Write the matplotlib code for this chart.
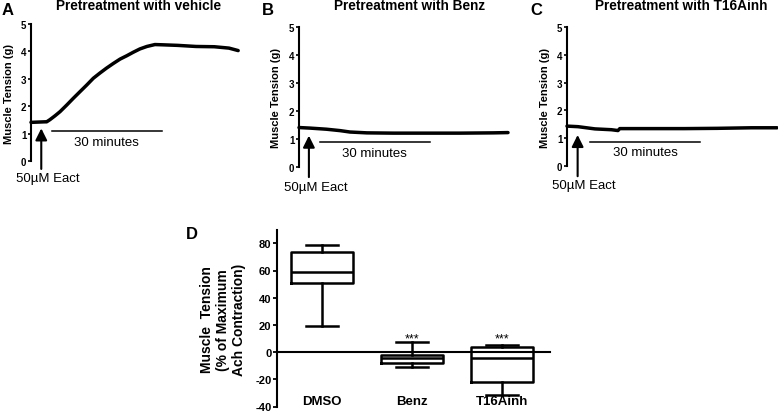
import matplotlib
matplotlib.use("Agg")
import matplotlib.pyplot as plt
import numpy as np

plt.rcParams['font.family'] = ['Liberation Sans', 'DejaVu Sans']
plt.rcParams['axes.unicode_minus'] = False

# ---- data: traces (time in minutes, tension in g) ----
time_A = [0, 3.8, 4.27, 5.18, 6.55, 7.91, 9.73, 11.55, 13.36, 15.18, 17.0, 18.8, 20.6,
          22.45, 24.3, 26.1, 27.9, 29.7, 31.6, 33.8, 36.0, 40.0, 45.0, 50.0, 54.0, 56.5]
tension_A = [1.41, 1.43, 1.43, 1.51, 1.65, 1.80, 2.04, 2.29, 2.53, 2.77, 3.02, 3.21, 3.39,
             3.56, 3.72, 3.84, 3.97, 4.09, 4.18, 4.25, 4.24, 4.22, 4.18, 4.17, 4.12, 4.03]

time_B = [0, 3.0, 7.5, 11.2, 13.9, 18.5, 25.7, 34.8, 43.9, 53.0, 57.0]
tension_B = [1.42, 1.40, 1.36, 1.31, 1.26, 1.23, 1.22, 1.22, 1.22, 1.23, 1.24]

time_C = [0, 3.0, 7.6, 12.1, 13.9, 14.4, 23.0, 32.1, 41.0, 50.3, 57.3]
tension_C = [1.43, 1.41, 1.33, 1.30, 1.27, 1.34, 1.34, 1.34, 1.35, 1.37, 1.37]

titles = ["Pretreatment with vehicle", "Pretreatment with Benz", "Pretreatment with T16Ainh"]
letters = ["A", "B", "C", "D"]
yticks_trace = [0, 1, 2, 3, 4, 5]

# ---- data: box plot panel D ----
groups = ["DMSO", "Benz", "T16Ainh"]
whis_hi = [78.5, 7.4, 5.5]
q3 = [73.8, -1.8, 3.4]
median = [59.0, -4.7, -4.5]
q1 = [51.0, -7.9, -21.7]
whis_lo = [19.0, -11.3, -31.4]
sig = ["", "***", "***"]
yticks_D = [-40, -20, 0, 20, 40, 60, 80]

W, H = 778, 414
fig = plt.figure(figsize=(W / 100, H / 100), dpi=100)

def fx(px):
    return px / W

def fy(py):
    return 1 - py / H

# axes rectangles in pixels: left, top, right, bottom
rects = [(31, 25, 240, 162), (299, 28.3, 510, 168.3), (567, 28.3, 778, 166.7)]
traces = [(time_A, tension_A), (time_B, tension_B), (time_C, tension_C)]
arrow_x = [2.8, 2.7, 2.9]
arrow_tip = [1.19, 1.13, 1.11]
arrow_base = [-0.29, -0.35, -0.38]
bar_start = [5.7, 5.7, 6.3]
bar_y = [1.08, 0.89, 0.87]
min_text_y = [0.70, 0.51, 0.49]
eact_y = [-0.63, -0.70, -0.69]
title_x = [139, 410, 681]
letter_x = [2, 262, 530]
label_x = [-0.079, -0.083, -0.080]

lw_axis = 1.5
for i in range(3):
    l, t, r, b = rects[i]
    ax = fig.add_axes([fx(l), fy(b), fx(r) - fx(l), fy(t) - fy(b)])
    ax.plot(traces[i][0], traces[i][1], color='black', lw=2.5,
            solid_capstyle='round', solid_joinstyle='round', clip_on=False)
    ax.set_xlim(0, (r - l) / (110 / 30))
    ax.set_ylim(0, 5)
    for s in ['top', 'right', 'bottom']:
        ax.spines[s].set_visible(False)
    ax.spines['left'].set_linewidth(lw_axis)
    ax.set_xticks([])
    ax.set_yticks(yticks_trace)
    ax.tick_params(axis='y', length=2.5, width=1.2, pad=0.8, labelsize=7)
    for lab in ax.get_yticklabels():
        lab.set_fontweight('bold')
    ax.set_ylabel("Muscle Tension (g)", fontsize=8, fontweight='bold')
    ax.yaxis.set_label_coords(label_x[i], 0.5)
    ax.patch.set_alpha(0)
    # arrow
    ax.annotate('', xy=(arrow_x[i], arrow_tip[i]), xytext=(arrow_x[i], arrow_base[i]),
                arrowprops=dict(arrowstyle='-|>,head_length=0.7,head_width=0.35',
                                lw=1.5, color='black', mutation_scale=10,
                                shrinkA=0, shrinkB=0),
                annotation_clip=False)
    ax.plot([bar_start[i], bar_start[i] + 30], [bar_y[i], bar_y[i]], color='black',
            lw=1.1, clip_on=False)
    ax.text(bar_start[i] + 15, min_text_y[i], "30 minutes", ha='center', va='center',
            fontsize=9.5, clip_on=False)
    ax.text(4.6, eact_y[i], "50µM Eact", ha='center', va='center', fontsize=9.5,
            clip_on=False)
    fig.text(fx(title_x[i]), fy(9.5), titles[i], ha='center', va='baseline',
             fontsize=9.8, fontweight='bold')
    fig.text(fx(letter_x[i]), fy(15), letters[i], ha='left', va='baseline',
             fontsize=12, fontweight='bold')

# ---- panel D ----
axd = fig.add_axes([fx(277), fy(407.5), fx(550) - fx(277), fy(230.7) - fy(407.5)])
stats = []
for k in range(3):
    stats.append(dict(med=median[k], q1=q1[k], q3=q3[k], whislo=whis_lo[k],
                      whishi=whis_hi[k], label=groups[k]))
pos = np.arange(len(groups))
lwb = 1.8
axd.bxp(stats, positions=pos, widths=0.68, capwidths=0.36, showfliers=False,
        boxprops=dict(color='black', lw=lwb),
        medianprops=dict(color='black', lw=lwb),
        whiskerprops=dict(color='black', lw=lwb),
        capprops=dict(color='black', lw=lwb))
axd.set_xlim(-0.5, 2.533)
axd.set_ylim(-40, 90)
axd.spines['top'].set_visible(False)
axd.spines['right'].set_visible(False)
axd.spines['bottom'].set_position(('data', 0))
axd.spines['bottom'].set_linewidth(lw_axis)
axd.spines['left'].set_linewidth(lw_axis)
axd.spines['left'].set_bounds(-40, 90)
axd.set_xticks([])
axd.set_yticks(yticks_D)
axd.tick_params(axis='y', length=3, width=1.3, pad=1, labelsize=8)
for lab in axd.get_yticklabels():
    lab.set_fontweight('bold')
axd.patch.set_alpha(0)
for k in range(3):
    axd.text(pos[k], -36, groups[k], ha='center', va='center', fontsize=9.5,
             fontweight='bold')
    if sig[k]:
        axd.text(pos[k], 7.8, sig[k], ha='center', va='baseline', fontsize=9)

fig.text(fx(223), fy(320), "Muscle  Tension\n(% of Maximum\nAch Contraction)",
         rotation=90, ha='center', va='center', multialignment='center',
         fontsize=10, fontweight='bold', linespacing=1.15)
fig.text(fx(186), fy(239), "D", ha='left', va='baseline', fontsize=12, fontweight='bold')

fig.savefig("out.png", dpi=100)
